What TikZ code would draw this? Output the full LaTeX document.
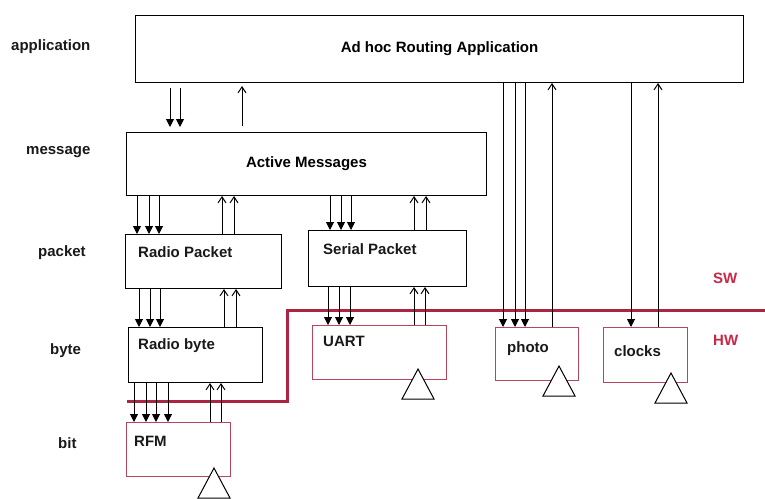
\documentclass[tikz,border=0pt]{standalone}
\usepackage{fontspec}
\setmainfont{Liberation Sans}
\usetikzlibrary{arrows.meta}
\definecolor{hwred}{RGB}{172,36,66}
\definecolor{hwtext}{RGB}{200,40,72}

\begin{document}
\begin{tikzpicture}[x=1pt, y=-1pt,
    font=\fontsize{15}{18}\selectfont\bfseries,
    box/.style={draw, line width=1pt, anchor=north west, inner sep=0pt},
    hwbox/.style={box, draw=hwred!85},
    txt/.style={anchor=base west, inner sep=0pt, text=black!90},
    dn/.style={line width=1pt, -{Triangle[length=8pt,width=8pt]}},
    up/.style={line width=1pt, -{Straight Barb[length=6pt,width=8pt]}}]

\useasboundingbox (0,0) rectangle (765,498);

% layers
\node[txt] (lapp) at (11,50.5) {application};
\node[txt] (lmsg) at (26,154.5) {message};
\node[txt] (lpkt) at (38,256) {packet};
\node[txt] (lbyte) at (50,354) {byte};
\node[txt] (lbit) at (58,448) {bit};

% software
\node[box, minimum width=608pt, minimum height=67pt] (app) at (135,15) {Ad hoc Routing Application};
\node[box, minimum width=360pt, minimum height=63pt] (am) at (126,132) {Active Messages};
\node[box, minimum width=156pt, minimum height=54pt] (rp) at (125,234) {};
\node[box, minimum width=158pt, minimum height=56pt] (sp) at (308,230) {};
\node[box, minimum width=134pt, minimum height=55pt] (rb) at (128,327) {};

% hardware
\node[hwbox, minimum width=134pt, minimum height=54pt] (uart) at (312,325) {};
\node[hwbox, minimum width=83pt, minimum height=53pt] (photo) at (495,327) {};
\node[hwbox, minimum width=84pt, minimum height=55pt] (clocks) at (603,327) {};
\node[hwbox, minimum width=104pt, minimum height=54pt] (rfm) at (126,422) {};

\node[txt] (rptext) at (138,257) {Radio Packet};
\node[txt] (sptext) at (323,254.5) {Serial Packet};
\node[txt] (rbtext) at (138,349) {Radio byte};
\node[txt] (uarttext) at (323,346) {UART};
\node[txt] (rfmtext) at (134,446) {RFM};
\node[txt] (phototext) at (507,352) {photo};
\node[txt] (clockstext) at (614,356) {clocks};

\foreach \x/\y in {418/369, 559/366, 671/373, 214/468}
    \draw[line width=1pt, fill=white] (\x,\y) -- ++(-16,30) -- ++(32,0) -- cycle;

% SW / HW border
\draw[hwred, line width=3pt] (127,401) -- (287,401) -- (287,310) -- (765,310);
\node[txt, text=hwtext] (sw) at (713,283) {SW};
\node[txt, text=hwtext] (hw) at (713,345) {HW};

\foreach \x in {170,180}
    \draw[dn, shorten <=5pt, shorten >=5pt] (app.south -| \x,0) -- (am.north -| \x,0);
\draw[up, shorten <=6pt, shorten >=3pt] (am.north -| 242,0) -- (app.south -| 242,0);

\foreach \x in {137,149,159}
    \draw[dn] (am.south -| \x,0) -- (rp.north -| \x,0);
\foreach \x in {222,234}
    \draw[up] (rp.north -| \x,0) -- (am.south -| \x,0);
\foreach \x in {330,341,351}
    \draw[dn] (am.south -| \x,0) -- (sp.north -| \x,0);
\foreach \x in {414,426}
    \draw[up] (sp.north -| \x,0) -- (am.south -| \x,0);

\foreach \x in {139,150,160}
    \draw[dn] (rp.south -| \x,0) -- (rb.north -| \x,0);
\foreach \x in {224,236}
    \draw[up] (rb.north -| \x,0) -- (rp.south -| \x,0);
\foreach \x in {328,339,350}
    \draw[dn] (sp.south -| \x,0) -- (uart.north -| \x,0);
\foreach \x in {414,425}
    \draw[up] (uart.north -| \x,0) -- (sp.south -| \x,0);

\foreach \x in {134,146,156,168}
    \draw[dn] (rb.south -| \x,0) -- (rfm.north -| \x,0);
\foreach \x in {210,221}
    \draw[up] (rfm.north -| \x,0) -- (rb.south -| \x,0);

\foreach \x in {503,515,525}
    \draw[dn] (app.south -| \x,0) -- (photo.north -| \x,0);
\draw[up] (photo.north -| 552,0) -- (app.south -| 552,0);
\draw[dn] (app.south -| 631,0) -- (clocks.north -| 631,0);
\draw[up] (clocks.north -| 658,0) -- (app.south -| 658,0);
\end{tikzpicture}
\end{document}
